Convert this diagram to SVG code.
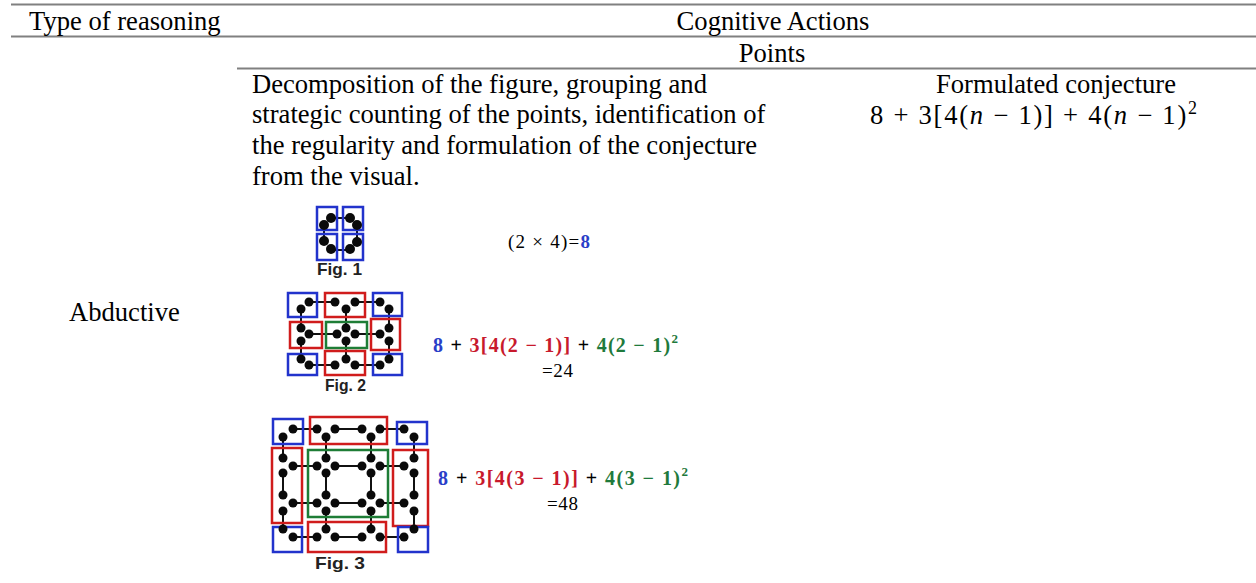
<svg xmlns="http://www.w3.org/2000/svg" width="1256" height="583" viewBox="0 0 1256 583">
<style>
  .rule{stroke:#808080;stroke-width:2;fill:none}
  .t{font-family:"Liberation Serif","Times New Roman",serif;font-size:26.6px;fill:#000}
  .eq{font-family:"Liberation Serif","Times New Roman",serif;font-size:20px;font-weight:bold;fill:#000}
  .eqn{font-family:"Liberation Serif","Times New Roman",serif;font-size:19px;fill:#000}
  .fig{font-family:"Liberation Sans",Arial,sans-serif;font-size:17px;font-weight:bold;fill:#222}
  .bb{fill:none;stroke:#2233cc;stroke-width:2.5}
  .rb{fill:none;stroke:#d01c1c;stroke-width:2.5}
  .gb{fill:none;stroke:#1e7d36;stroke-width:2.5}
  .ln{stroke:#111;stroke-width:2;fill:none}
  .dot{fill:#0a0a0a}
  .blue{fill:#2a3ec8}
  .red{fill:#c8192c}
  .green{fill:#1f7a3c}
</style>
<rect width="1256" height="583" fill="#fff"/>
<g id="table-rules">
  <line class="rule" x1="11" y1="4.5" x2="1256" y2="4.5"/>
  <line class="rule" x1="11" y1="36.5" x2="1256" y2="36.5"/>
  <line class="rule" x1="237" y1="68.5" x2="1256" y2="68.5"/>
</g>
<g id="header">
  <text class="t" x="29" y="30">Type of reasoning</text>
  <text class="t" x="773" y="30" text-anchor="middle">Cognitive Actions</text>
  <text class="t" x="772" y="62" text-anchor="middle">Points</text>
</g>
<g id="row-label">
  <text class="t" x="69" y="321">Abductive</text>
</g>
<g id="description">
  <text class="t" x="252" y="93">Decomposition of the figure, grouping and</text>
  <text class="t" x="252" y="123">strategic counting of the points, identification of</text>
  <text class="t" x="252" y="154">the regularity and formulation of the conjecture</text>
  <text class="t" x="252" y="185">from the visual.</text>
</g>
<g id="conjecture">
  <text class="t" x="1056" y="93" text-anchor="middle">Formulated conjecture</text>
  <text class="t" x="870" y="124" font-size="27" textLength="327" lengthAdjust="spacing">8 + 3[4(<tspan font-style="italic">n</tspan> − 1)] + 4(<tspan font-style="italic">n</tspan> − 1)<tspan font-size="18" dy="-10">2</tspan></text>
</g>
<g id="fig1">
  <g class="connectors">
    <path class="ln" d="M332 218H350M332 250H350M324 225V241M357 226V242"/>
  </g>
  <rect class="bb" x="317" y="207" width="20" height="23"/>
  <rect class="bb" x="343" y="207" width="20" height="23"/>
  <rect class="bb" x="317" y="234" width="20" height="26"/>
  <rect class="bb" x="343" y="234" width="20" height="26"/>
  <g class="dot">
    <circle cx="331" cy="218" r="5"/><circle cx="324" cy="225" r="5"/>
    <circle cx="350" cy="218" r="5"/><circle cx="357" cy="225" r="5"/>
    <circle cx="324" cy="241" r="5"/><circle cx="331" cy="249" r="5"/>
    <circle cx="357" cy="242" r="5"/><circle cx="350" cy="249" r="5"/>
  </g>
  <text class="fig" x="317" y="275" textLength="45" lengthAdjust="spacingAndGlyphs">Fig. 1</text>
  <text class="eqn" x="508" y="248" textLength="82" lengthAdjust="spacing">(2 × 4)=<tspan class="blue" font-weight="bold">8</tspan></text>
</g>
<g id="fig2">
  <g class="connectors">
    <path class="ln" d="M309 302H335M355 302H380M309 334H337M355 334H380M309 365H335M355 365H380M301 309V328M301 341V359M346 309V328M346 341V359M389 309V328M389 341V359"/>
  </g>
  <rect class="bb" x="288" y="293" width="29" height="24"/>
  <rect class="rb" x="325" y="293" width="40" height="24"/>
  <rect class="bb" x="373" y="293" width="29" height="23"/>
  <rect class="rb" x="290" y="322" width="32" height="26"/>
  <rect class="gb" x="326" y="322" width="41" height="26"/>
  <rect class="rb" x="371" y="319" width="29" height="31"/>
  <rect class="bb" x="288" y="354" width="29" height="21"/>
  <rect class="rb" x="325" y="351" width="40" height="24"/>
  <rect class="bb" x="373" y="354" width="29" height="21"/>
  <g class="dot">
    <circle cx="309" cy="302" r="4.5"/><circle cx="301" cy="309" r="4.5"/>
    <circle cx="335" cy="302" r="4.5"/><circle cx="346" cy="309" r="4.5"/><circle cx="355" cy="302" r="4.5"/>
    <circle cx="380" cy="302" r="4.5"/><circle cx="389" cy="309" r="4.5"/>
    <circle cx="301" cy="328" r="4.5"/><circle cx="309" cy="334" r="4.5"/><circle cx="301" cy="341" r="4.5"/>
    <circle cx="346" cy="328" r="4.5"/><circle cx="337" cy="334" r="4.5"/><circle cx="355" cy="334" r="4.5"/><circle cx="346" cy="341" r="4.5"/>
    <circle cx="389" cy="328" r="4.5"/><circle cx="380" cy="334" r="4.5"/><circle cx="389" cy="341" r="4.5"/>
    <circle cx="301" cy="359" r="4.5"/><circle cx="309" cy="365" r="4.5"/>
    <circle cx="335" cy="365" r="4.5"/><circle cx="346" cy="359" r="4.5"/><circle cx="355" cy="365" r="4.5"/>
    <circle cx="389" cy="359" r="4.5"/><circle cx="380" cy="365" r="4.5"/>
  </g>
  <text class="fig" x="325" y="391" textLength="41" lengthAdjust="spacingAndGlyphs">Fig. 2</text>
  <text class="eq" x="433" y="352" textLength="245" lengthAdjust="spacing"><tspan class="blue">8</tspan> + <tspan class="red">3[4(2 − 1)]</tspan> + <tspan class="green">4(2 − 1)</tspan><tspan class="green" font-size="13" dy="-9">2</tspan></text>
  <text class="eqn" x="542" y="377" textLength="31" lengthAdjust="spacing">=24</text>
</g>
<g id="fig3">
  <g class="connectors">
    <path class="ln" d="M293 429H317M335 429H362M380 429H404M293 466H317M335 466H362M380 466H404M293 503H317M335 503H362M380 503H404M293 537H317M335 537H362M380 537H404M283 437V458M283 473V495M283 511V529M326 437V458M326 473V495M326 511V529M371 437V458M371 473V495M371 511V529M414 437V458M414 473V495M414 511V529"/>
  </g>
  <rect class="bb" x="273" y="419" width="30" height="25"/>
  <rect class="rb" x="310" y="417" width="77" height="27"/>
  <rect class="bb" x="397" y="422" width="30" height="22"/>
  <rect class="rb" x="272" y="448" width="30" height="75"/>
  <rect class="gb" x="308" y="450" width="80" height="67"/>
  <rect class="rb" x="393" y="450" width="35" height="76"/>
  <rect class="bb" x="273" y="527" width="29" height="25"/>
  <rect class="rb" x="308" y="522" width="78" height="30"/>
  <rect class="bb" x="398" y="527" width="30" height="25"/>
  <g class="dot">
    <circle cx="293" cy="429" r="4.5"/><circle cx="283" cy="437" r="4.5"/>
    <circle cx="317" cy="429" r="4.5"/><circle cx="326" cy="437" r="4.5"/><circle cx="335" cy="429" r="4.5"/>
    <circle cx="362" cy="429" r="4.5"/><circle cx="371" cy="437" r="4.5"/><circle cx="380" cy="429" r="4.5"/>
    <circle cx="404" cy="429" r="4.5"/><circle cx="414" cy="437" r="4.5"/>
    <circle cx="283" cy="458" r="4.5"/><circle cx="293" cy="466" r="4.5"/><circle cx="283" cy="473" r="4.5"/>
    <circle cx="283" cy="495" r="4.5"/><circle cx="293" cy="503" r="4.5"/><circle cx="283" cy="511" r="4.5"/>
    <circle cx="326" cy="458" r="4.5"/><circle cx="317" cy="466" r="4.5"/><circle cx="335" cy="466" r="4.5"/><circle cx="326" cy="473" r="4.5"/>
    <circle cx="371" cy="458" r="4.5"/><circle cx="362" cy="466" r="4.5"/><circle cx="380" cy="466" r="4.5"/><circle cx="371" cy="473" r="4.5"/>
    <circle cx="326" cy="495" r="4.5"/><circle cx="317" cy="503" r="4.5"/><circle cx="335" cy="503" r="4.5"/><circle cx="326" cy="511" r="4.5"/>
    <circle cx="371" cy="495" r="4.5"/><circle cx="362" cy="503" r="4.5"/><circle cx="380" cy="503" r="4.5"/><circle cx="371" cy="511" r="4.5"/>
    <circle cx="414" cy="458" r="4.5"/><circle cx="404" cy="466" r="4.5"/><circle cx="414" cy="473" r="4.5"/>
    <circle cx="414" cy="495" r="4.5"/><circle cx="404" cy="503" r="4.5"/><circle cx="414" cy="511" r="4.5"/>
    <circle cx="283" cy="529" r="4.5"/><circle cx="293" cy="537" r="4.5"/>
    <circle cx="317" cy="537" r="4.5"/><circle cx="326" cy="529" r="4.5"/><circle cx="335" cy="537" r="4.5"/>
    <circle cx="362" cy="537" r="4.5"/><circle cx="371" cy="529" r="4.5"/><circle cx="380" cy="537" r="4.5"/>
    <circle cx="414" cy="529" r="4.5"/><circle cx="404" cy="537" r="4.5"/>
  </g>
  <text class="fig" x="315" y="569" font-size="19" textLength="50" lengthAdjust="spacingAndGlyphs">Fig. 3</text>
  <text class="eq" x="438" y="485" textLength="250" lengthAdjust="spacing"><tspan class="blue">8</tspan> + <tspan class="red">3[4(3 − 1)]</tspan> + <tspan class="green">4(3 − 1)</tspan><tspan class="green" font-size="13" dy="-9">2</tspan></text>
  <text class="eqn" x="547" y="510" textLength="31" lengthAdjust="spacing">=48</text>
</g>
</svg>
